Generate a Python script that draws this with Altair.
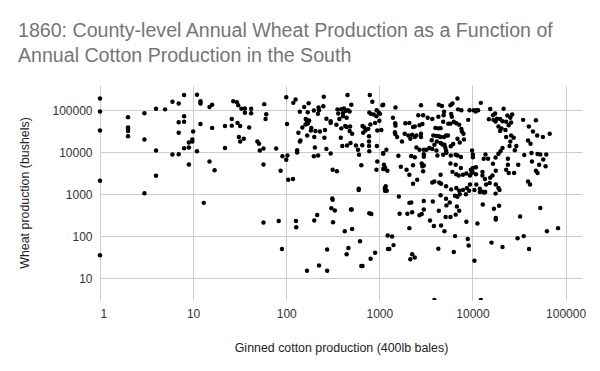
import altair as alt
import pandas as pd

TITLE = ["1860: County-level Annual Wheat Production as a Function of",
         "Annual Cotton Production in the South"]
X_TITLE = "Ginned cotton production (400lb bales)"
Y_TITLE = "Wheat production (bushels)"
x_ticks = [1, 10, 100, 1000, 10000, 100000]
y_ticks = [10, 100, 1000, 10000, 100000]

# (cotton bales, wheat bushels) per county, grouped by cotton decade
cotton_1_10 = [
    (1, 190000), (1, 93000), (1, 33000), (1, 2100), (1, 35),
    (2, 68000), (2, 39000), (2, 36000), (2, 32000), (2, 24000),
    (3, 85000), (3, 20000), (3, 1050), (4, 108000), (4, 11000), (4, 2750),
    (5, 105000), (6, 160000), (6, 8800), (7, 145000), (7, 52000), (7, 29000),
    (7, 8900), (8, 230000), (8, 72000), (8, 53000), (8, 12500), (9, 5100),
    (9, 13000), (9, 17000), (9.8, 20000), (9.8, 18000),
]

cotton_10_100 = [
    (10, 31000), (11, 235000), (11, 10500), (12, 165000), (12, 145000), (12, 47000),
    (13, 620), (15, 120000), (16, 135000), (16, 38000), (15, 6000), (17, 3700),
    (22, 12600), (22, 42000), (26, 62000), (26, 43000), (27, 163000), (29.5, 155000),
    (30.5, 132000), (30, 50000), (31, 23000), (32, 18000), (32, 42000), (35, 21000),
    (33, 108000), (36, 110000), (36, 87000), (42, 108000), (42, 85000), (40, 39000),
    (49, 18000), (51, 16000), (52, 11000), (58, 140000), (61, 80000), (60, 62000),
    (57, 12300), (57, 5100), (57, 210), (78, 12300), (83, 230), (90, 49),
    (91, 8000), (87, 3600),
]

cotton_100_1k = [
    (103, 8300), (100, 6600), (100, 205000), (102, 47000), (105, 2200), (118, 2300),
    (119, 150000), (126, 180000), (140, 92000), (156, 120000), (174, 147000), (170, 90000),
    (135, 29000), (140, 18000), (131, 11200), (131, 9800), (149, 39000), (166, 58000),
    (174, 55000), (161, 46000), (170, 48000), (168, 25000), (184, 33000), (198, 99000),
    (222, 116000), (225, 100000), (219, 82000), (250, 125000), (253, 210000), (230, 31000),
    (200, 23000), (203, 13000), (198, 8000), (220, 8300), (257, 22000), (261, 34000),
    (270, 63000), (270, 12000), (300, 9300), (300, 50000), (346, 45000), (355, 105000),
    (390, 106000), (417, 110000), (436, 97000), (407, 85000), (362, 84000), (372, 62000),
    (407, 72000), (479, 93000), (500, 135000), (455, 230000), (390, 37000), (445, 40000),
    (485, 41000), (510, 27500), (385, 22000), (400, 14000), (450, 14500), (490, 16500),
    (315, 3800), (350, 3500), (312, 790), (560, 14500), (590, 11500), (605, 8700),
    (640, 4900), (600, 1350), (660, 42000), (710, 33000), (760, 36000), (690, 39000),
    (790, 230000), (840, 160000), (780, 88000), (810, 82000), (870, 79000), (930, 72000),
    (775, 18000), (775, 24000), (775, 14000), (800, 46000), (935, 100000), (985, 88000),
    (162, 62000), (168, 53000), (176, 57000), (167, 49000), (186, 38000), (206, 32000),
    (142, 19000), (300, 55000), (445, 66000), (460, 100000), (480, 32000), (430, 42000),
    (655, 14600), (670, 29000), (780, 10500), (940, 14000),
    (127, 230), (128, 162), (167, 15), (200, 235), (215, 320), (225, 20),
    (275, 48), (275, 15), (315, 740), (305, 460), (333, 410), (318, 215),
    (425, 130), (445, 37), (465, 52), (495, 430), (505, 430), (510, 148),
    (620, 75), (640, 19.5), (660, 19.5), (600, 1250), (780, 350), (820, 335),
    (805, 29), (900, 40),
]

cotton_1k_10k = [
    (1015, 82000), (1000, 56000), (900, 50000), (950, 33000), (1050, 34000), (1100, 135000),
    (1100, 9600), (950, 6000), (930, 3800), (1100, 4000), (1150, 4350), (1150, 1380),
    (1170, 1540), (1150, 1200), (1230, 104), (1240, 49),
    (1080, 132000), (1490, 116000), (2800, 132000), (4350, 135000), (4700, 127000),
    (5800, 132000), (6100, 145000), (6900, 190000), (7000, 105000), (7600, 100000),
    (9300, 100000), (11100, 100000),
    (1400, 66000), (1480, 49000), (1490, 43000), (1470, 30000), (1480, 27000),
    (2620, 76000), (2950, 76000), (3300, 66000), (3700, 62000), (4300, 70000),
    (4900, 76000), (4850, 53000), (5500, 48000), (5800, 48000), (6300, 53000),
    (6700, 49000), (7200, 45000), (7600, 36000), (7700, 31000), (8000, 27500),
    (9000, 59000), (1900, 49000), (2100, 50000), (2300, 40000), (2400, 41000),
    (2700, 44000), (2900, 47000), (4000, 38000), (4300, 37000), (4550, 37500),
    (3800, 25000), (4100, 24500), (4350, 24000), (4550, 23000), (4950, 23000),
    (5200, 25000), (5450, 25000), (1870, 27500), (2050, 25000), (2250, 26000),
    (2400, 23000), (2500, 25000), (2800, 27500), (2800, 23000), (1550, 23000),
    (1750, 18000), (3650, 19200), (4150, 18000), (3900, 15000), (4550, 16500),
    (4750, 15300), (5000, 15000), (5100, 13000), (5850, 13800), (6200, 15700),
    (6900, 21000), (7300, 17000), (8100, 20000), (2500, 13000), (2700, 11500),
    (3000, 11500), (3200, 11500), (3450, 12600), (3700, 12000), (1190, 11500),
    (1100, 9200), (1600, 8200), (2200, 8100), (2400, 7600), (3000, 8900),
    (3000, 7800), (4100, 11000), (4200, 8300), (4850, 8700), (5200, 11000),
    (5250, 9700), (5850, 8300), (6600, 8700), (6900, 8300), (7500, 7700),
    (1120, 5000), (1150, 4000), (1220, 3600), (1700, 4500), (1960, 3800),
    (2100, 2900), (2300, 4900), (2850, 5400), (2900, 4600), (3000, 4800),
    (2950, 3500), (5800, 5400), (6600, 5000), (7500, 4200), (6100, 3400),
    (6700, 3000), (7100, 2800), (7900, 2900), (8600, 3100), (9600, 3800),
    (10000, 3400), (10900, 3000), (9400, 2800), (1150, 1400), (1200, 1200),
    (2300, 1780), (2550, 2200), (3700, 1900), (3900, 2000), (4550, 2900),
    (4400, 1900), (4600, 1780), (5200, 1550), (5900, 1300), (6700, 1400),
    (7200, 1200), (7900, 1250), (8700, 1400), (9400, 1700), (10500, 1250),
    (9200, 1200), (2150, 21000), (4950, 92000), (5900, 82000), (6000, 70000),
    (10800, 93000),
    (1620, 880), (2100, 620), (2200, 630), (3000, 690), (3750, 670), (4550, 940),
    (5200, 780), (5700, 630), (6500, 920), (6900, 870), (7300, 1000), (8500, 990),
    (5250, 540), (6800, 510), (7200, 400), (5800, 285), (5150, 285), (6600, 325),
    (3000, 430), (2850, 335), (2700, 315), (2250, 370), (2000, 340), (1650, 340),
    (4350, 400), (3500, 235), (3850, 175), (4600, 180), (5000, 130), (2100, 155),
    (8600, 220), (1370, 98), (6500, 100), (8900, 85), (9100, 60), (1280, 49),
    (1420, 61), (4300, 50), (6300, 42), (2250, 37), (2150, 28), (2400, 31),
]

cotton_10k_100k = [
    (12300, 150000), (10300, 100000), (11500, 100000), (15500, 107000), (21600, 108000),
    (16600, 76000), (17500, 84000), (15000, 61000), (16800, 59000), (17700, 54000),
    (18300, 63000), (19800, 62000), (21000, 55000), (23700, 75000), (26700, 79000),
    (25500, 66000), (23000, 53000), (26000, 51000), (24500, 44000), (19000, 41000),
    (20500, 37000), (22600, 34000), (19800, 32000), (35000, 59000), (48000, 58000),
    (40300, 41000), (44600, 31000), (49500, 25000), (39500, 19000), (42000, 16000),
    (57000, 23000), (67500, 27500), (26000, 25000), (27700, 22000), (23000, 23000),
    (25500, 18000), (25000, 14000), (29600, 14100), (28500, 11200), (21000, 12600),
    (20000, 10500), (19000, 9200), (17700, 7500), (16600, 5300), (13800, 8800),
    (13200, 7000), (14700, 7000), (10100, 8800), (10100, 7600), (9900, 11000),
    (36000, 8600), (43000, 9600), (50000, 9100), (53500, 8800), (62000, 8800),
    (57500, 6700), (61000, 4600), (52000, 5000), (43500, 6000), (48000, 3600),
    (50000, 3200), (31000, 5000), (28000, 3200), (24000, 5000), (23000, 3800),
    (24500, 3200), (17800, 3600), (16400, 2800), (15500, 2450), (13600, 2300),
    (12800, 2800), (12800, 3400), (10900, 4400), (39500, 2000), (41500, 1700),
    (10100, 4200), (9800, 3200), (11000, 1700), (12000, 1350), (12800, 1150),
    (14000, 1700), (15300, 1850), (17800, 1700), (19000, 1400), (24000, 7000),
    (12000, 1120), (13300, 1100), (13700, 1120), (17700, 1030), (19500, 1250),
    (12900, 570), (17000, 450), (17800, 270), (17800, 250), (19300, 530),
    (32500, 295), (53500, 470), (11300, 200), (16000, 70), (21000, 55),
    (30500, 89), (35500, 100), (40500, 49), (63000, 130), (83000, 155), (10500, 26),
]

# counties whose wheat value lies at / below the bottom of the axis (shown cut off)
bottom_edge = [(3900, 3), (12300, 3)]

points = cotton_1_10 + cotton_10_100 + cotton_100_1k + cotton_1k_10k + cotton_10k_100k
df = pd.DataFrame(points, columns=["cotton", "wheat"])
df_edge = pd.DataFrame(bottom_edge, columns=["cotton", "wheat"])

FONT = "Liberation Sans"

x_enc = alt.X(
    "cotton:Q",
    scale=alt.Scale(type="log", domain=[1, 150000], nice=False),
    axis=alt.Axis(values=x_ticks, format="d", title=X_TITLE, grid=True, ticks=False,
                  domain=False, labelPadding=8, titlePadding=22),
)
y_enc = alt.Y(
    "wheat:Q",
    scale=alt.Scale(type="log", domain=[3, 400000], nice=False),
    axis=alt.Axis(values=y_ticks, format="d", title=Y_TITLE, grid=True, ticks=False,
                  domain=False, labelPadding=8, titlePadding=20),
)

pts = alt.Chart(df).mark_circle(size=20, color="black", opacity=1).encode(x=x_enc, y=y_enc)
edge = alt.Chart(df_edge).mark_circle(size=20, color="black", opacity=1, clip=True).encode(
    x=alt.X("cotton:Q"), y=alt.Y("wheat:Q"))

chart = alt.layer(pts, edge).properties(
    width=482,
    height=215,
    title=alt.TitleParams(text=TITLE, anchor="start", frame="group", fontSize=19.6,
                          color="#757575", font=FONT, fontWeight="normal", dx=-82,
                          offset=18, lineHeight=25),
    autosize=alt.AutoSizeParams(type="none"),
    padding={"left": 92, "top": 77, "right": 10, "bottom": 63},
).configure_view(stroke=None).configure_axis(
    labelFont=FONT, labelFontSize=12, labelColor="#333333",
    titleFont=FONT, titleFontSize=12.4, titleColor="#222222", titleFontWeight="normal",
    gridColor="#cccccc", gridWidth=1,
)

chart.save("out.html", embed_options={"renderer": "svg", "actions": False})
